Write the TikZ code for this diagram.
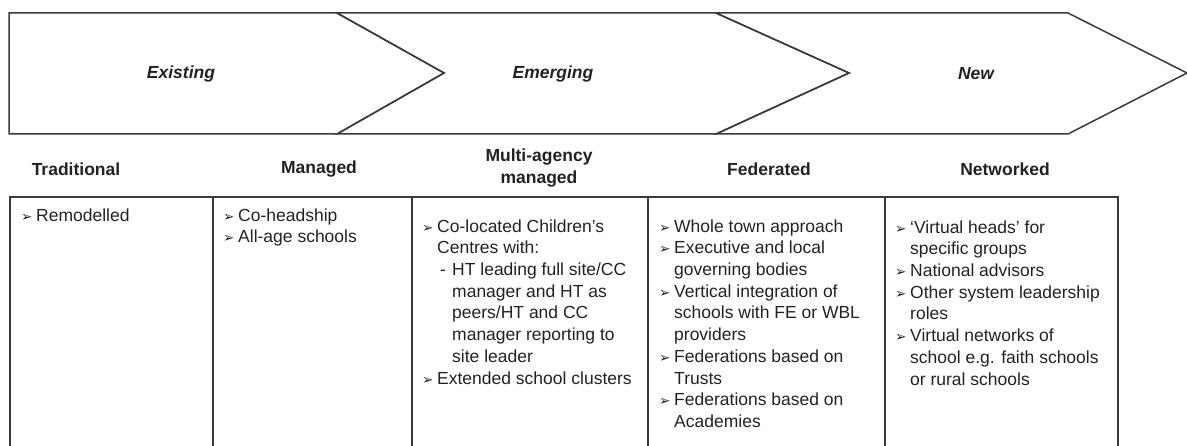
\documentclass[tikz,border=0pt]{standalone}
\usepackage{fontspec}
\setmainfont{Liberation Sans}
\newfontfamily\dingfont{DejaVu Sans}
\usepackage{xcolor}
\usepackage{tikz}
\usetikzlibrary{positioning}

\definecolor{linegray}{HTML}{3A3A3A}
\definecolor{textgray}{HTML}{222222}

\newcommand{\basefont}{\fontsize{17.5}{21.7}\selectfont}
\newcommand{\hoch}{\rule{0pt}{13pt}}
\newcommand{\bul}{\makebox[15pt][l]{\dingfont\fontsize{13.5}{13.5}\selectfont ➢}}
\newcommand{\ind}{\hspace*{15pt}}
\newcommand{\dash}{\makebox[15pt][l]{\,-}}

\tikzset{
  phase/.style={draw=linegray, line width=1.5pt, line join=miter},
  phaselabel/.style={font=\basefont\bfseries\itshape, text=textgray},
  header/.style={font=\basefont\bfseries, text=textgray, align=center},
  cell/.style={font=\basefont, align=left, anchor=north west, inner sep=0pt, text=textgray},
  rule/.style={draw=linegray, line width=1.5pt}
}

\begin{document}
\begin{tikzpicture}[x=1pt, y=-1pt]
  % Rahmen
  \useasboundingbox (0,0) rectangle (1187,446);

  % Pfeile
  \draw[phase] (716,13) -- (1068,13) -- (1187,73) -- (1068,134) -- (716,134) -- (849,73) -- cycle;
  \draw[phase] (337,13) -- (716,13) -- (849,73) -- (716,134) -- (337,134) -- (444,73) -- cycle;
  \draw[phase] (9,13) -- (337,13) -- (444,73) -- (337,134) -- (9,134) -- cycle;

  \node[phaselabel] (ex) at (181,74) {Existing};
  \node[phaselabel] (em) at (553,74) {Emerging};
  \node[phaselabel] (nw) at (976,74) {New};

  % Kopfzeile
  \node[header] (trad) at (76,169) {Traditional};
  \node[header] (mgd) at (319,169) {Managed};
  \node[header] (multi) at (539,168) {Multi-agency\\managed};
  \node[header] (fed) at (769,169) {Federated};
  \node[header] (netw) at (1005,169) {Networked};

  % Tabelle
  \draw[rule] (10,450) -- (10,197) -- (1118,197) -- (1118,450);
  \draw[rule] (213,197) -- (213,450);
  \draw[rule] (412,197) -- (412,450);
  \draw[rule] (648,197) -- (648,450);
  \draw[rule] (885,197) -- (885,450);

  \node[cell] (c1) at (21,208) {\hoch\bul Remodelled};
  \node[cell] (c2) at (223,208) {\hoch\bul Co-headship\\\bul All-age schools};
  \node[cell] (c3) at (422,219) {\hoch\bul Co-located Children’s\\
    \ind Centres with:\\
    \ind\dash HT leading full site/CC\\
    \ind\ind manager and HT as\\
    \ind\ind peers/HT and CC\\
    \ind\ind manager reporting to\\
    \ind\ind site leader\\
    \bul Extended school clusters};
  \node[cell] (c4) at (659,219) {\hoch\bul Whole town approach\\
    \bul Executive and local\\
    \ind governing bodies\\
    \bul Vertical integration of\\
    \ind schools with FE or WBL\\
    \ind providers\\
    \bul Federations based on\\
    \ind Trusts\\
    \bul Federations based on\\
    \ind Academies};
  \node[cell] (c5) at (895,220) {\hoch\bul ‘Virtual heads’ for\\
    \ind specific groups\\
    \bul National advisors\\
    \bul Other system leadership\\
    \ind roles\\
    \bul Virtual networks of\\
    \ind school e.g. faith schools\\
    \ind or rural schools};
\end{tikzpicture}
\end{document}
